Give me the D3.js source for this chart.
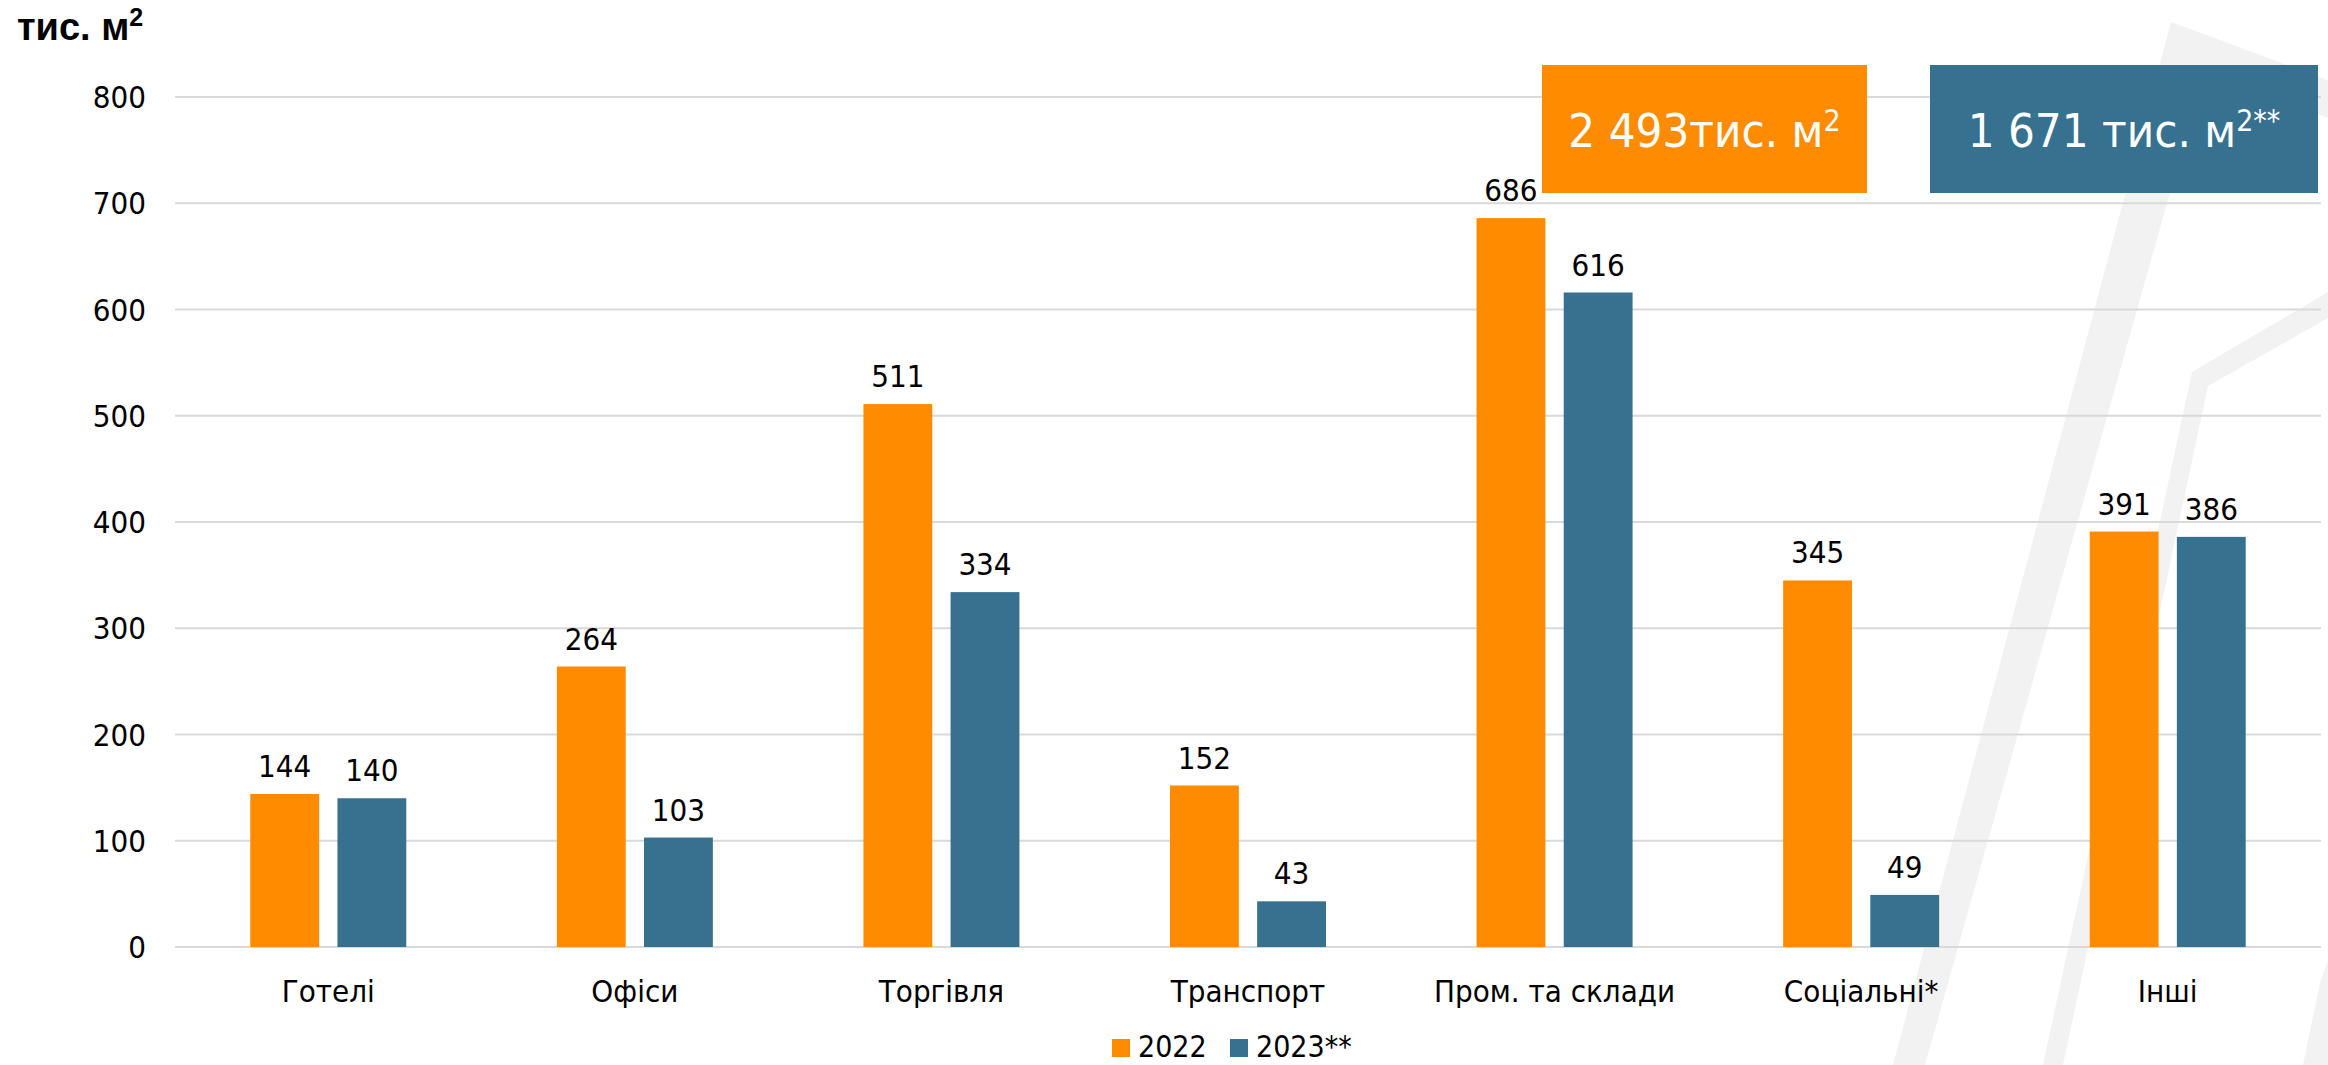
<!DOCTYPE html>
<head>
  <meta charset="utf-8">
  <title>Площа введених нежитлових будівель</title>
  <script src="https://d3js.org/d3.v7.min.js"></script>
  <style>
    body { margin: 0; background: #fff; overflow: hidden; }
    text {
      font-family: "DejaVu Sans Condensed", "DejaVu Sans", sans-serif;
      font-stretch: condensed;
      fill: #000;
    }
    .grid line { stroke: #d9d9d9; stroke-width: 2px; }
    .unit { font-family: "Liberation Sans", Arial, sans-serif; font-weight: bold; font-stretch: normal; }
  </style>
</head>

<body>
  <script>
    var categories = ["Готелі", "Офіси", "Торгівля", "Транспорт", "Пром. та склади", "Соціальні*", "Інші"];
    var series = ["2022", "2023**"];
    var values2022 = [144, 264, 511, 152, 686, 345, 391];
    var values2023 = [140, 103, 334, 43, 616, 49, 386];
    var yTicks = [0, 100, 200, 300, 400, 500, 600, 700, 800];
    var totals = [
      {label: "2 493тис. м", tail: ""},
      {label: "1 671 тис. м", tail: "**"}
    ];

    var width = 2328,
        height = 1065,
        colors = d3.scaleOrdinal().domain(series).range(["#ff8c00", "#36718f"]),
        svg = d3.select("body").append("svg")
          .attr("width", width)
          .attr("height", height);

    // light background chevrons, decoration only
    var deco = svg.append("g").attr("fill", "#f2f2f2");
    [
      [[1893, 1065], [2171, 22], [2328, 80], [2328, 118], [2205, 68], [1925, 1065]],
      [[2043, 1065], [2192, 372], [2328, 292], [2328, 318], [2208, 386], [2063, 1065]],
      [[2303, 1065], [2320, 983], [2328, 960], [2328, 1065]]
    ].forEach(function(p) {
      deco.append("polygon").attr("points", p.map(function(d) { return d.join(","); }).join(" "));
    });

    var x0 = d3.scaleBand()
        .domain(categories)
        .range([175, 2321]);

    var x1 = d3.scaleBand()
        .domain(series)
        .range([x0.bandwidth() / 2 - 78, x0.bandwidth() / 2 + 78])
        .paddingInner(0.21);

    var y = d3.scaleLinear()
        .domain([0, 800])
        .range([947, 97]);

    // gridlines + y labels
    var grid = svg.append("g").attr("class", "grid");
    grid.selectAll("line")
        .data(yTicks)
      .enter().append("line")
        .attr("x1", 175)
        .attr("x2", 2321)
        .attr("y1", function(d) { return y(d); })
        .attr("y2", function(d) { return y(d); });

    svg.append("g").selectAll("text")
        .data(yTicks)
      .enter().append("text")
        .attr("x", 146)
        .attr("y", function(d) { return y(d); })
        .attr("dy", "0.36em")
        .attr("text-anchor", "end")
        .attr("font-size", "31px")
        .text(function(d) { return d; });

    svg.append("text")
        .attr("class", "unit")
        .attr("x", 17)
        .attr("y", 40)
        .attr("font-size", "38px")
        .text("тис. м")
      .append("tspan")
        .attr("font-size", "25px")
        .attr("dy", "-14")
        .text("2");

    var rows = categories.map(function(c, i) {
      return {cat: c, vals: [
        {key: series[0], value: values2022[i]},
        {key: series[1], value: values2023[i]}
      ]};
    });

    var group = svg.append("g").selectAll("g")
        .data(rows)
      .enter().append("g")
        .attr("transform", function(d) { return "translate(" + x0(d.cat) + ",0)"; });

    group.selectAll("rect")
        .data(function(d) { return d.vals; })
      .enter().append("rect")
        .attr("x", function(d) { return x1(d.key); })
        .attr("y", function(d) { return y(d.value); })
        .attr("width", x1.bandwidth())
        .attr("height", function(d) { return y(0) - y(d.value); })
        .attr("fill", function(d) { return colors(d.key); });

    group.selectAll("text.val")
        .data(function(d) { return d.vals; })
      .enter().append("text")
        .attr("class", "val")
        .attr("x", function(d) { return x1(d.key) + x1.bandwidth() / 2; })
        .attr("y", function(d) { return y(d.value) - 17; })
        .attr("text-anchor", "middle")
        .attr("font-size", "31px")
        .text(function(d) { return d.value; });

    // category labels
    svg.append("g").selectAll("text")
        .data(categories)
      .enter().append("text")
        .attr("x", function(d) { return x0(d) + x0.bandwidth() / 2; })
        .attr("y", 1002)
        .attr("text-anchor", "middle")
        .attr("font-size", "31px")
        .text(function(d) { return d; });

    // total boxes
    var boxes = [
      {x: 1542, w: 325, fill: colors(series[0]), t: totals[0]},
      {x: 1930, w: 388, fill: colors(series[1]), t: totals[1]}
    ];
    var box = svg.append("g").selectAll("g")
        .data(boxes)
      .enter().append("g");
    box.append("rect")
        .attr("x", function(d) { return d.x; })
        .attr("y", 65)
        .attr("width", function(d) { return d.w; })
        .attr("height", 128)
        .attr("fill", function(d) { return d.fill; });
    var bt = box.append("text")
        .attr("x", function(d) { return d.x + d.w / 2; })
        .attr("y", 147)
        .attr("text-anchor", "middle")
        .attr("font-size", "47px")
        .style("fill", "#fff");
    bt.append("tspan").text(function(d) { return d.t.label; });
    bt.append("tspan")
        .attr("font-size", "30px")
        .attr("dy", "-16")
        .style("fill", "#fff")
        .text(function(d) { return "2" + d.t.tail; });

    // legend
    var legend = svg.append("g").selectAll("g")
        .data(series)
      .enter().append("g")
        .attr("transform", function(d, i) { return "translate(" + [1112, 1230][i] + ",0)"; });
    legend.append("rect")
        .attr("y", 1039)
        .attr("width", 18)
        .attr("height", 18)
        .attr("fill", function(d) { return colors(d); });
    legend.append("text")
        .attr("x", 26)
        .attr("y", 1057)
        .attr("font-size", "30px")
        .text(function(d) { return d; });
  </script>
</body>
